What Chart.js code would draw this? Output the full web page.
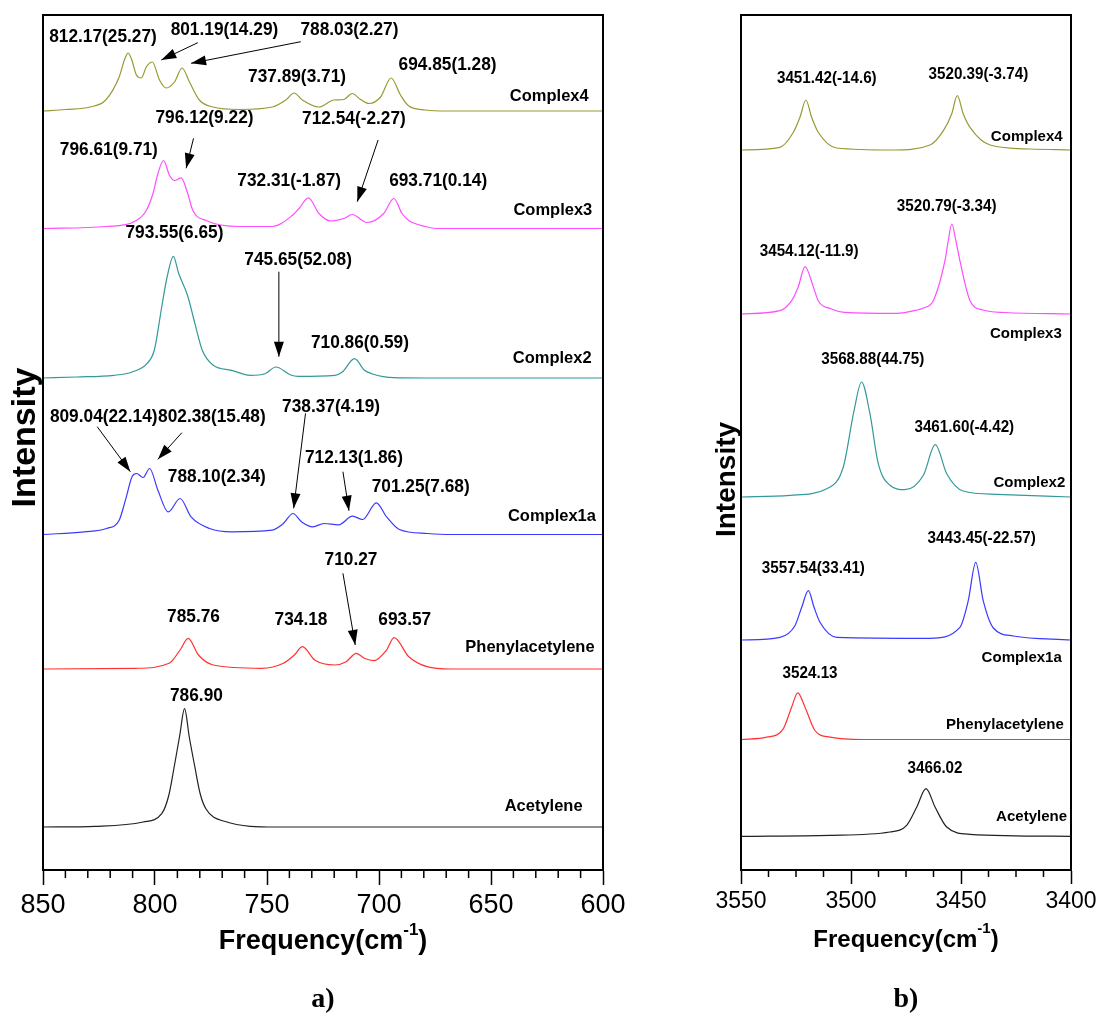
<!DOCTYPE html>
<html>
<head>
<meta charset="utf-8">
<script src="https://cdn.jsdelivr.net/npm/chart.js@4.4.1/dist/chart.umd.min.js"></script>
<style>
  html, body { margin: 0; padding: 0; background: #fff; }
  #wrap { position: relative; width: 1102px; height: 1027px; }
  .box { position: absolute; top: 0; height: 1027px; }
</style>
</head>
<body>
<div id="wrap">
  <div class="box" style="left:0;width:640px"><canvas id="chartA"></canvas></div>
  <div class="box" style="left:640px;width:462px"><canvas id="chartB"></canvas></div>
</div>
<script>
// stacked IR spectra, a) 850-600 cm-1 and b) 3550-3400 cm-1

const names = ['Complex4', 'Complex3', 'Complex2', 'Complex1a', 'Phenylacetylene', 'Acetylene'];
const colors = ['#999933', '#ff4dff', '#339999', '#3a3aff', '#ff3333', '#222222'];

/* panel a) : frequency / intensity pairs, intensity above each baseline */
const c4aFreq = [850, 840, 829, 822, 816, 813.5, 812, 810.5, 808.3, 806.1, 803.9, 801.2, 798, 795, 791.3, 787.9, 784.6, 780.2, 774.2, 762.4, 747.6, 741.6, 737.9, 734.2, 726.8, 720.1, 715.7, 712, 708.2, 704.5, 699.3, 694.6, 690.4, 686.7, 679.3, 670, 600];
const c4aInt  = [0, 1.5, 4, 11, 34, 52, 58, 52, 36, 33, 44, 49, 31, 23, 29, 43, 29, 11, 4, 1.5, 4, 11, 18, 11, 4, 11, 11.5, 17.5, 11.5, 7.5, 14, 33, 16, 5, 1, 0, 0];
const c3aFreq = [850, 821.7, 808.3, 803.9, 800.9, 798.7, 796.2, 793.5, 791.3, 788.3, 785.4, 783.1, 777.2, 762.4, 747.7, 738.7, 735.7, 731.5, 726.8, 721.6, 715.7, 712, 705.3, 697.9, 693.4, 689.7, 686.7, 679.3, 674.4, 600];
const c3aInt  = [0, 2, 8, 18, 35, 55, 68, 53, 48, 50.7, 35, 18, 8, 2, 2, 13, 20, 30.7, 15, 7.5, 10, 14, 6, 15, 30, 15, 8, 2, 0, 0];
const c2aFreq = [850, 834.9, 818.4, 810.2, 803.6, 800.3, 797, 794.6, 791.8, 789.5, 785.5, 782.2, 778.9, 774, 765.8, 757.5, 750.9, 746, 739.4, 736.1, 719.7, 716.4, 710.9, 706.5, 703.2, 693.3, 678.5, 600];
const c2aInt  = [0, 1, 2.7, 6, 14.3, 28, 71, 101, 121.7, 105, 82.7, 54.7, 27.7, 12.7, 7.7, 2.7, 4.3, 11, 3, 1.7, 2.7, 6, 19.3, 7.7, 4.3, 0.3, 0, 0];
const c1aFreq = [850, 831.6, 821.7, 816, 813.2, 810.2, 808.2, 805.3, 802.4, 798.7, 794.1, 788.8, 783.9, 775.6, 765.8, 747.7, 742.7, 738.4, 734.5, 729.5, 724.6, 718, 711.8, 707.3, 701.2, 696.6, 690.9, 678.5, 668, 600];
const c1aInt  = [0, 2.7, 6, 14.3, 34.3, 58, 61, 57, 66, 44.3, 22.6, 36, 17.6, 6, 2.7, 4.3, 11, 21, 12.6, 7.7, 11, 9.7, 18.3, 15, 31.6, 17.6, 5, 1, 0, 0];
const phaFreq = [850, 808.5, 793.7, 788.8, 785.2, 780.6, 774, 752.6, 742.7, 737.8, 734.2, 728.7, 719.7, 714.7, 710.1, 706.5, 702.3, 696.6, 693.3, 686.7, 678.5, 668, 600];
const phaInt  = [0, 0.7, 5.7, 19, 30.7, 14, 4, 0.7, 5.7, 14, 22.3, 9, 4, 7.3, 15.7, 10.7, 8.3, 19, 31.3, 12.3, 2.3, 0, 0];
const acaFreq = [850, 826.6, 805.3, 797, 793.8, 791.6, 789, 786.8, 784.7, 782.2, 779.8, 777.3, 769, 746, 600];
const acaInt  = [0, 0.7, 5, 13.3, 32, 58, 91, 118.3, 90, 60, 33, 18.3, 5.7, 0, 0];
const baseA = [759, 641.5, 492, 335.5, 201, 43];

/* panel b) */
const c4bFreq = [3550, 3532.3, 3526.2, 3523.2, 3520.5, 3517.9, 3514.9, 3506.5, 3480.8, 3464.1, 3458, 3454.2, 3451.7, 3449, 3445.9, 3436.8, 3418.6, 3400];
const c4bInt  = [0, 2.7, 17.7, 32.7, 50, 32.7, 17.7, 2, 0, 5, 19.3, 36.3, 54.3, 36.3, 22.7, 5, 1, 0];
const c3bFreq = [3550, 3532.3, 3527, 3524, 3520.9, 3517.1, 3514.9, 3508.9, 3503, 3479.2, 3470, 3467, 3462.6, 3457.3, 3455.8, 3454.2, 3452.3, 3450.5, 3445.9, 3440, 3430, 3400];
const c3bInt  = [0, 3.3, 13.3, 27, 47.3, 27, 13.3, 5, 1.7, 0.7, 4, 6, 13.3, 53.3, 73, 90, 73, 53.3, 13.3, 4, 1.5, 0];
const c2bFreq = [3550, 3527.7, 3511, 3503.5, 3498.6, 3495.2, 3491.4, 3487.6, 3482.3, 3475.5, 3467.1, 3461.7, 3456.5, 3449, 3433.8, 3400];
const c2bInt  = [0, 1.7, 8.3, 30, 86.7, 115, 83.3, 33.3, 11.7, 7.3, 21.7, 52.3, 23.3, 6, 2.7, 0];
const c1bFreq = [3550, 3532.3, 3525.5, 3522.4, 3519.4, 3516.8, 3514.1, 3506.5, 3464.1, 3450.5, 3446.7, 3443.3, 3439.9, 3435.3, 3426.2, 3400];
const c1bInt  = [0, 2.7, 14.3, 32.7, 49.3, 32.7, 17.7, 2.7, 1.7, 12.7, 39.3, 77.7, 39.3, 12, 4, 0];
const phbFreq = [3550, 3538.3, 3530.8, 3527, 3524.2, 3520.9, 3516.4, 3509.5, 3494.4, 3400];
const phbInt  = [0, 2.3, 10.7, 32.3, 46.7, 32.3, 9, 2.3, 0, 0];
const acbFreq = [3550, 3509.5, 3482.3, 3474.7, 3470.1, 3465.9, 3461.8, 3456.5, 3445.9, 3400];
const acbInt  = [0, 1, 4.3, 11, 29.3, 47.7, 29.3, 9.3, 2, 0];
const baseB = [720, 556, 373, 230, 130.5, 33.7];

/* annotations: text, frequency, intensity */
const peakLabelsA = [
  ['812.17(25.27)', 823.2, 833.3], ['801.19(14.29)', 769, 840], ['788.03(2.27)', 713.2, 840],
  ['737.89(3.71)', 736.6, 792.7], ['694.85(1.28)', 669.4, 805],
  ['796.12(9.22)', 777.9, 752], ['712.54(-2.27)', 711.2, 751], ['796.61(9.71)', 820.6, 720],
  ['732.31(-1.87)', 740.1, 689], ['693.71(0.14)', 673.6, 689],
  ['793.55(6.65)', 791.3, 637], ['745.65(52.08)', 736.1, 610], ['710.86(0.59)', 708.5, 526.7],
  ['809.04(22.14)', 822.9, 453.3], ['802.38(15.48)', 774.6, 453.3], ['738.37(4.19)', 721.4, 463.3],
  ['788.10(2.34)', 772.4, 393.3], ['712.13(1.86)', 711.2, 411.7], ['701.25(7.68)', 681.4, 383.3],
  ['710.27', 712.5, 310], ['785.76', 782.8, 253.3], ['734.18', 734.8, 250], ['693.57', 688.5, 250],
  ['786.90', 781.5, 174]
];
const nameLabelsA = [[624, 774], [622.4, 659.3], [622.7, 511.7], [622.8, 353.3], [632.6, 222.7], [626.5, 63.3]];
const arrowsA = [
  [780.9, 827.3, 797.2, 810], [734.9, 828.3, 783.9, 806.7], [782.8, 731.7, 786.1, 701.7],
  [700.4, 730, 709.7, 668.3], [744.7, 598.3, 744.7, 513.3], [825.8, 443.3, 811, 398.3],
  [788, 437.3, 798.7, 410.7], [732.8, 456.7, 738.1, 361.7], [716.1, 398.3, 713.4, 359.3],
  [716.1, 296.7, 710.6, 225]
];
const peakLabelsB = [
  ['3451.42(-14.6)', 3511, 791.7], ['3520.39(-3.74)', 3442.1, 795],
  ['3454.12(-11.9)', 3519, 618.3], ['3520.79(-3.34)', 3456.5, 663.3],
  ['3568.88(44.75)', 3490.1, 510], ['3461.60(-4.42)', 3448.5, 442.7],
  ['3443.45(-22.57)', 3440.6, 331.7], ['3557.54(33.41)', 3517.1, 301.7],
  ['3524.13', 3518.6, 196.7], ['3466.02', 3461.8, 101.7]
];
const nameLabelsB = [[3420.1, 733.3], [3420.5, 536.7], [3418.9, 387.3], [3422.4, 212.7], [3430, 145], [3417.9, 53.3]];

const FONT = '"Liberation Sans", Arial, sans-serif';

const buildSets = (pairs, bases) => pairs.map(([f, v], k) => ({
  label: names[k],
  data: f.map((x, i) => ({ x: x, y: bases[k] + v[i] })),
  borderColor: colors[k],
  borderWidth: 1.2,
  pointRadius: 0,
  fill: false,
  cubicInterpolationMode: 'monotone'
}));

const isMajor = v => Math.abs(v / 50 - Math.round(v / 50)) < 1e-6;

// narrow text: squeeze horizontally around the anchor point
const squeezed = (ctx, t, x, y, sx) => {
  ctx.save(); ctx.translate(x, y); ctx.scale(sx, 1); ctx.fillText(t, 0, 0); ctx.restore();
};

// frame, minor ticks, texts and arrows
const decor = {
  id: 'decor',
  afterDraw(chart, args, o) {
    const { ctx, chartArea: ca, scales: { x, y } } = chart;
    ctx.save();
    ctx.strokeStyle = '#000';
    ctx.lineWidth = 2;
    ctx.strokeRect(ca.left, ca.top, ca.right - ca.left, ca.bottom - ca.top);
    // minor ticks
    ctx.lineWidth = 1.5;
    for (let v = o.min; v <= o.max + 1e-6; v += o.minorStep) {
      if (isMajor(v)) continue;
      const px = x.getPixelForValue(v);
      ctx.beginPath(); ctx.moveTo(px, ca.bottom); ctx.lineTo(px, ca.bottom + o.minorLen); ctx.stroke();
    }
    ctx.fillStyle = '#000';
    ctx.textAlign = 'center';
    ctx.textBaseline = 'middle';
    ctx.font = 'bold ' + o.peakSize + 'px ' + FONT;
    o.peaks.forEach(([t, f, v]) => squeezed(ctx, t, x.getPixelForValue(f), y.getPixelForValue(v), o.squeeze));
    ctx.font = 'bold ' + o.nameSize + 'px ' + FONT;
    o.names.forEach(([f, v], k) => squeezed(ctx, names[k], x.getPixelForValue(f), y.getPixelForValue(v), 0.97));
    // arrows
    ctx.lineWidth = 1;
    o.arrows.forEach(([f1, v1, f2, v2]) => {
      const x1 = x.getPixelForValue(f1), y1 = y.getPixelForValue(v1);
      const x2 = x.getPixelForValue(f2), y2 = y.getPixelForValue(v2);
      const a = Math.atan2(y2 - y1, x2 - x1);
      ctx.beginPath(); ctx.moveTo(x1, y1); ctx.lineTo(x2, y2); ctx.stroke();
      ctx.beginPath();
      ctx.moveTo(x2, y2);
      ctx.lineTo(x2 - 15 * Math.cos(a) + 5 * Math.sin(a), y2 - 15 * Math.sin(a) - 5 * Math.cos(a));
      ctx.lineTo(x2 - 15 * Math.cos(a) - 5 * Math.sin(a), y2 - 15 * Math.sin(a) + 5 * Math.cos(a));
      ctx.closePath(); ctx.fill();
    });
    // axis title with superscript
    const cx = (ca.left + ca.right) / 2, ty = ca.bottom + o.titleDy;
    const big = 'bold ' + o.titleSize + 'px ' + FONT, small = 'bold ' + Math.round(o.titleSize * 0.62) + 'px ' + FONT;
    ctx.font = big; const w1 = ctx.measureText('Frequency(cm').width, w3 = ctx.measureText(')').width;
    ctx.font = small; const w2 = ctx.measureText('-1').width;
    let sx = cx - (w1 + w2 + w3) / 2;
    ctx.textAlign = 'left';
    ctx.font = big; ctx.fillText('Frequency(cm', sx, ty); sx += w1;
    ctx.font = small; ctx.fillText('-1', sx, ty - o.titleSize * 0.45); sx += w2;
    ctx.font = big; ctx.fillText(')', sx, ty);
    // panel letter
    ctx.textAlign = 'center';
    ctx.font = 'bold ' + o.letterSize + 'px "Liberation Serif", "Times New Roman", serif';
    ctx.fillText(o.letter, cx, ca.bottom + o.letterDy);
    // y title
    ctx.translate(ca.left + o.yTitleDx, (ca.top + ca.bottom) / 2 + o.yTitleDy);
    ctx.rotate(-Math.PI / 2);
    ctx.font = 'bold ' + o.yTitleSize + 'px ' + FONT;
    ctx.fillText('Intensity', 0, 0);
    ctx.restore();
  }
};

const makeChart = (id, sets, min, max, step, tickSize, pad, deco) => new Chart(document.getElementById(id), {
  type: 'line',
  data: { datasets: sets },
  plugins: [decor],
  options: {
    responsive: true,
    maintainAspectRatio: false,
    animation: false,
    layout: { padding: pad },
    plugins: { legend: { display: false }, tooltip: { enabled: false }, decor: deco },
    scales: {
      x: {
        type: 'linear', reverse: true, min: min, max: max,
        afterFit: s => { s.height = 157; },
        border: { display: true, color: '#000', width: 2 },
        grid: {
          drawOnChartArea: false, tickLength: deco.majorLen, tickWidth: 1.5,
          tickColor: c => (c.tick && isMajor(c.tick.value) ? '#000' : 'rgba(0,0,0,0)')
        },
        ticks: {
          stepSize: step, autoSkip: false, maxRotation: 0, padding: deco.tickPad,
          color: '#000', font: { family: FONT, size: tickSize },
          callback: v => (isMajor(v) ? String(Math.round(v)) : '')
        }
      },
      y: { display: false, min: 0, max: 855 }
    }
  }
});

makeChart('chartA',
  buildSets([[c4aFreq, c4aInt], [c3aFreq, c3aInt], [c2aFreq, c2aInt], [c1aFreq, c1aInt], [phaFreq, phaInt], [acaFreq, acaInt]], baseA),
  600, 850, 10, 27, { left: 43, top: 15, right: 37, bottom: 0 },
  { min: 600, max: 850, minorStep: 10, minorLen: 8, majorLen: 15, tickPad: 4,
    peaks: peakLabelsA, names: nameLabelsA, arrows: arrowsA, peakSize: 18, nameSize: 17, squeeze: 0.96,
    titleSize: 27, titleDy: 72, letter: 'a)', letterSize: 28, letterDy: 130,
    yTitleDx: -17, yTitleDy: -5, yTitleSize: 34 });

makeChart('chartB',
  buildSets([[c4bFreq, c4bInt], [c3bFreq, c3bInt], [c2bFreq, c2bInt], [c1bFreq, c1bInt], [phbFreq, phbInt], [acbFreq, acbInt]], baseB),
  3400, 3550, 12.5, 23, { left: 101, top: 15, right: 31, bottom: 0 },
  { min: 3400, max: 3550, minorStep: 12.5, minorLen: 7, majorLen: 14, tickPad: 4,
    peaks: peakLabelsB, names: nameLabelsB, arrows: [], peakSize: 16, nameSize: 15.5, squeeze: 0.95,
    titleSize: 24, titleDy: 70, letter: 'b)', letterSize: 28, letterDy: 130,
    yTitleDx: -14, yTitleDy: 37, yTitleSize: 28 });
</script>
</body>
</html>
